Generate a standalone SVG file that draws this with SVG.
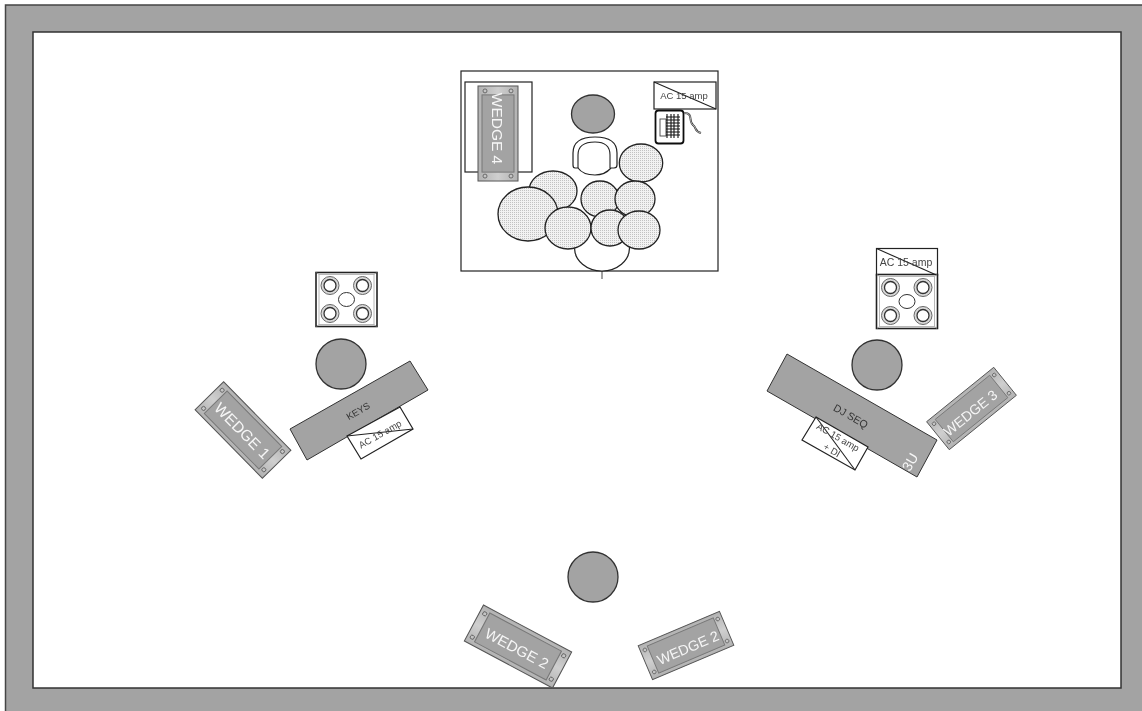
<svg xmlns="http://www.w3.org/2000/svg" xmlns:xlink="http://www.w3.org/1999/xlink" width="1142" height="711" viewBox="0 0 1142 711">
<style>
text{font-family:"Liberation Sans",Arial,sans-serif;text-anchor:middle;dominant-baseline:central}
.person{fill:#a3a3a3;stroke:#333;stroke-width:1.3}
.drum{fill:url(#dots);stroke:#222;stroke-width:1.3}
.box{fill:#fff;stroke:#222;stroke-width:1.2}
.line{fill:none;stroke:#222;stroke-width:1.1}
.riser{fill:#a3a3a3;stroke:#333;stroke-width:1}
.wedge-out{fill:url(#metal);stroke:#555;stroke-width:1}
.wedge-in{fill:#a3a3a3;stroke:#777;stroke-width:1}
.screw{fill:#c4c4c4;stroke:#555;stroke-width:.8}
.wt{fill:#f6f6f6}
.lab{fill:#444;font-size:9.5px}
.knob{fill:#fff;stroke:#333;stroke-width:1.3}
.knob2{fill:#d8d8d8;stroke:#666;stroke-width:1}
</style>
<defs>
<pattern id="dots" width="2" height="2" patternUnits="userSpaceOnUse"><rect width="2" height="2" fill="#f2f2f2"/><rect width="1" height="1" fill="#c2c2c2"/></pattern>
<linearGradient id="metal" x1="0" y1="0" x2="0" y2="1"><stop offset="0" stop-color="#b2b2b2"/><stop offset=".5" stop-color="#cfcfcf"/><stop offset="1" stop-color="#b2b2b2"/></linearGradient>
<filter id="soft" x="-2%" y="-2%" width="104%" height="104%"><feGaussianBlur stdDeviation="0.45"/></filter>
<g id="wedge">
<rect class="wedge-out" x="-48" y="-20" width="96" height="40"/>
<rect class="wedge-in" x="-39" y="-16" width="78" height="32"/>
<circle class="screw" cx="-43" cy="-13" r="2"/><circle class="screw" cx="43" cy="-13" r="2"/>
<circle class="screw" cx="-43" cy="13" r="2"/><circle class="screw" cx="43" cy="13" r="2"/>
</g>
<g id="knobset">
<circle class="knob2" r="9"/><circle class="knob" r="6"/>
</g>
<g id="amp">
<rect x="-30.500" y="-27" width="61" height="54" fill="#fff" stroke="#222" stroke-width="1.6"/>
<path d="M-30 -27L-27.500 -25H27.500L30 -27M-30 27L-27.500 25H27.500L30 27M-27.500 -25V25M27.500 -25V25" fill="none" stroke="#999" stroke-width=".7"/>
<use xlink:href="#knobset" href="#knobset" x="-16.500" y="-14"/><use xlink:href="#knobset" href="#knobset" x="16" y="-14"/>
<use xlink:href="#knobset" href="#knobset" x="-16.500" y="14"/><use xlink:href="#knobset" href="#knobset" x="16" y="14"/>
<ellipse cx="0" cy="0" rx="8" ry="7" fill="#fff" stroke="#333" stroke-width="1"/>
</g>
</defs>
<rect id="background" width="1142" height="711" fill="#fff"/>
<g filter="url(#soft)">
<g id="room">
<path d="M5 711V5H1142V711Z" fill="#a3a3a3"/>
<path d="M5.500 711V5H1142" fill="none" stroke="#444" stroke-width="1.5"/>
<rect x="33" y="32" width="1088" height="656" fill="#fff" stroke="#333" stroke-width="1.500"/>
</g>
<g id="connectors"><path d="M602 271V279" stroke="#444" stroke-width="1" fill="none"/></g>
<g id="drum-riser">
<rect class="box" x="461" y="71" width="257" height="200" stroke-width="1.4"/>
<rect class="box" x="465" y="82" width="67" height="90" stroke-width="1"/>
<ellipse class="box" cx="602" cy="248" rx="27.500" ry="23"/>
<ellipse class="drum" cx="553" cy="191" rx="24" ry="20"/>
<ellipse class="drum" cx="641" cy="163" rx="21.700" ry="19"/>
<ellipse class="drum" cx="528" cy="214" rx="30" ry="27"/>
<ellipse class="drum" cx="600" cy="199" rx="19" ry="18"/>
<ellipse class="drum" cx="635" cy="199" rx="20" ry="18"/>
<ellipse class="drum" cx="568" cy="228" rx="23" ry="21"/>
<ellipse class="drum" cx="610" cy="228" rx="19" ry="18"/>
<ellipse class="drum" cx="639" cy="230" rx="21" ry="19"/>
</g>
<g id="drummer">
<ellipse class="person" cx="593" cy="114" rx="21.500" ry="19"/>
<path class="box" d="M573 165V153Q573 137 595 137Q617 137 617 153V165Q617 168 614 168H611Q605 175 595 175Q583 175 578 168H575Q573 168 573 165Z" stroke-width="1.200"/>
<path class="line" d="M578 168V155Q578 142 595 142Q610 142 610 155V168" stroke-width="1.200"/>
</g>
<g id="drum-power">
<rect class="box" x="654" y="82" width="62" height="27"/>
<path class="line" d="M654 82L716 109"/>
<text class="lab" x="684" y="95.500">AC 15 amp</text>
</g>
<g id="drum-pad">
<rect x="655.500" y="110.500" width="28" height="33" rx="3" fill="#fff" stroke="#111" stroke-width="1.800"/>
<rect x="660" y="119" width="6" height="17" fill="none" stroke="#444" stroke-width=".9"/>
<path d="M667 114V138M671 114V138M674 114V138M678 114V138M666 117H680M666 120H680M666 123H680M666 126H680M666 129H680M666 132H680M666 135H680" fill="none" stroke="#111" stroke-width="1.100"/>
<path d="M684 113C694 113 688 121 693 125C697 128 694 131 701 133" fill="none" stroke="#333" stroke-width="2"/>
<path d="M684 113C694 113 688 121 693 125C697 128 694 131 701 133" fill="none" stroke="#fff" stroke-width=".6"/>
</g>
<g id="wedge-4" transform="translate(498 133.500) rotate(90) scale(.99 1)"><use xlink:href="#wedge" href="#wedge"/><text class="wt" x="-5" y="0" font-size="15.500" transform="scale(1.010 1)">WEDGE 4</text></g>
<g id="keys-amp" transform="translate(346.500 299.500)"><use xlink:href="#amp" href="#amp"/></g>
<g id="keys-player"><circle class="person" cx="341" cy="364" r="25"/></g>
<g id="keys-desk"><path class="riser" d="M290 429L410 361L428 390L307 460Z"/><text x="358" y="411" font-size="9.500" fill="#333" transform="rotate(-30 358 411)">KEYS</text></g>
<g id="keys-power"><path class="box" d="M347 436L400 407L413 429L361 459Z" stroke-width="1"/><path class="line" d="M347 436L413 429"/><text class="lab" x="380" y="434" transform="rotate(-29.500 380 434)">AC 15 amp</text></g>
<g id="wedge-1" transform="translate(243 430) rotate(45.500)"><use xlink:href="#wedge" href="#wedge"/><text class="wt" y="1" font-size="15.500">WEDGE 1</text></g>
<g id="dj-amp">
<rect class="box" x="876.500" y="248.500" width="61" height="27"/><path class="line" d="M876.500 248.500L937.500 275.500"/><text x="906" y="262" font-size="10.500" fill="#444">AC 15 amp</text>
<g transform="translate(907 301.500)"><use xlink:href="#amp" href="#amp"/></g>
</g>
<g id="dj-player"><circle class="person" cx="877" cy="365" r="25"/></g>
<g id="dj-desk"><path class="riser" d="M787 354L937 440L917 477L767 391Z"/><text x="851" y="416" font-size="10.500" fill="#333" transform="rotate(30 851 416)">DJ SEQ</text><text class="wt" x="910" y="462" font-size="14" transform="rotate(-60 910 462)">3U</text></g>
<g id="dj-power"><path class="box" d="M816 417L868 447L855 470L802 440Z" stroke-width="1"/><path class="line" d="M816 417L855 470"/><text class="lab" x="838" y="437" transform="rotate(30 838 437)">AC 15 amp</text><text class="lab" x="832" y="450" transform="rotate(30 832 450)">+ DI</text></g>
<g id="wedge-3" transform="translate(971.500 408.500) rotate(-39) scale(.9)"><use xlink:href="#wedge" href="#wedge"/><text class="wt" x="-4" y="3" font-size="15.500">WEDGE 3</text></g>
<g id="bottom-player"><circle class="person" cx="593" cy="577" r="25"/></g>
<g id="wedge-2-left" transform="translate(518 646.500) rotate(28) scale(1.040 1.020)"><use xlink:href="#wedge" href="#wedge"/><text class="wt" y="2" font-size="14.500">WEDGE 2</text></g>
<g id="wedge-2-right" transform="translate(686 645.500) rotate(-23) scale(.92 .92)"><use xlink:href="#wedge" href="#wedge"/><text class="wt" x="1" y="3" font-size="15.500">WEDGE 2</text></g>
</g>
</svg>
